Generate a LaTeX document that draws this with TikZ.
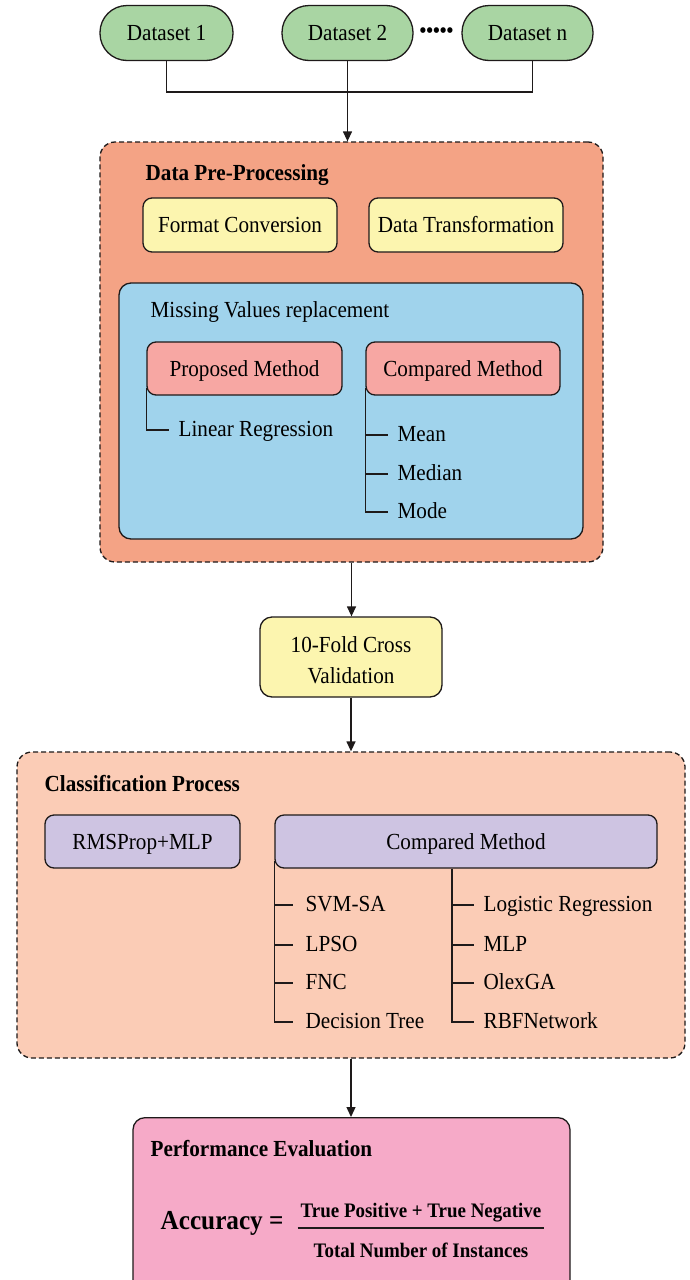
\documentclass[tikz,border=0pt]{standalone}
\usepackage{fontspec}
\setmainfont{Liberation Serif}[FakeStretch=0.92]
\usetikzlibrary{arrows.meta,calc}
\definecolor{linec}{RGB}{30,26,26}
\definecolor{dsgreen}{RGB}{169,213,163}
\definecolor{salmon}{RGB}{244,163,133}
\definecolor{yel}{RGB}{252,245,175}
\definecolor{blu}{RGB}{160,211,236}
\definecolor{pinkm}{RGB}{247,167,163}
\definecolor{peach}{RGB}{251,204,182}
\definecolor{purp}{RGB}{206,196,226}
\definecolor{perfpink}{RGB}{246,170,200}
\newcommand\mainsize{\fontsize{23}{27}\selectfont}
\begin{document}
\begin{tikzpicture}[x=1pt,y=-1pt,
  font=\mainsize,
  line width=1.3pt,
  draw=linec,
  arr/.style={-{Triangle[length=10pt,width=9pt]}},
  dset/.style={draw=linec, fill=dsgreen, rounded corners=27pt, minimum width=133pt, minimum height=55pt, inner sep=0pt, text height=15.2pt, text depth=0pt},
  box/.style={draw=linec, rounded corners=9pt, inner sep=0pt, text height=15.2pt, text depth=0pt},
  bigbox/.style={draw=linec, dash pattern=on 5pt off 3pt, rounded corners=15pt, inner sep=0pt},
  titletext/.style={font=\mainsize\bfseries, anchor=west, inner sep=0pt, text height=15.5pt, text depth=0pt},
  plaintext/.style={anchor=west, inner sep=0pt, text height=15.2pt, text depth=0pt},
  leaf/.style={anchor=west, inner xsep=9pt, inner ysep=0pt, text height=12.6pt, text depth=0pt}
]
\clip (0,0) rectangle (689,1280);
\useasboundingbox (0,0) rectangle (689,1280);
\fill[white] (0,0) rectangle (689,1280);

% datasets
\node[dset] (d1) at (166.5,33) {Dataset 1};
\node[dset, minimum width=131pt] (d2) at (347.5,33) {Dataset 2};
\node[dset, minimum width=131pt] (dn) at (527.5,33) {Dataset n};
\node[font=\fontsize{21}{21}\selectfont\bfseries, inner sep=0pt] (dots) at (436.5,33) {•••••};

% pre-processing
\node[bigbox, fill=salmon, minimum width=503pt, minimum height=420pt] (pre) at (351.5,352) {};
\coordinate (jn) at (347.5,92);
\draw (d1.south) |- (jn) -| ([xshift=5pt]dn.south);
\draw[arr] (d2.south) -- (d2.south |- pre.north);

\node[titletext] (pret) at (145,173) {Data Pre-Processing};
\node[box, fill=yel, minimum width=194pt, minimum height=54pt] (fc) at (240,225) {Format Conversion};
\node[box, fill=yel, minimum width=194pt, minimum height=54pt] (dt) at (466,225) {Data Transformation};

\node[draw=linec, fill=blu, rounded corners=12pt, minimum width=464pt, minimum height=256pt, inner sep=0pt] (mv) at (351,411) {};
\node[plaintext] (mvt) at (150,310) {Missing Values replacement};
\node[box, fill=pinkm, minimum width=195pt, minimum height=53pt] (prop) at (244.5,368.5) {Proposed Method};
\node[box, fill=pinkm, minimum width=194pt, minimum height=53pt] (cmp1) at (463,368.5) {Compared Method};

\node[leaf] (lr) at (169,430) {Linear Regression};
\draw ([yshift=8pt]prop.south west) |- (lr.west);

\node[leaf] (mean) at (388,435) {Mean};
\node[leaf] (median) at (388,474) {Median};
\node[leaf] (mode) at (388,512) {Mode};
\draw ([yshift=8pt]cmp1.south west) |- (mode.west);
\draw (cmp1.west |- mean.west) -- (mean.west);
\draw (cmp1.west |- median.west) -- (median.west);

% cross validation
\node[draw=linec, fill=yel, rounded corners=12pt, minimum width=182pt, minimum height=80pt, inner sep=0pt] (fold) at (351,657) {};
\node[align=center, inner sep=0pt, font=\fontsize{23}{31}\selectfont] (foldt) at (351,660) {10-Fold Cross\\Validation};
\draw[arr] (pre.south) -- (pre.south |- fold.north);

% classification
\node[bigbox, fill=peach, minimum width=668pt, minimum height=306pt] (cls) at (351,905) {};
\draw[arr] (fold.south) -- (fold.south |- cls.north);
\node[titletext] (clst) at (44,784) {Classification Process};
\node[box, fill=purp, minimum width=195pt, minimum height=53pt] (rms) at (142.5,841.5) {RMSProp+MLP};
\node[box, fill=purp, minimum width=382pt, minimum height=53pt] (cmp2) at (466,841.5) {Compared Method};

\node[leaf, inner xsep=12pt] (svm) at (293,905) {SVM-SA};
\node[leaf, inner xsep=12pt] (lpso) at (293,945) {LPSO};
\node[leaf, inner xsep=12pt] (fnc) at (293,983) {FNC};
\node[leaf, inner xsep=12pt] (dtree) at (293,1022) {Decision Tree};
\draw ([yshift=8pt]cmp2.south west) |- (dtree.west);
\draw (cmp2.west |- svm.west) -- (svm.west);
\draw (cmp2.west |- lpso.west) -- (lpso.west);
\draw (cmp2.west |- fnc.west) -- (fnc.west);

\node[leaf] (logr) at (474,905) {Logistic Regression};
\node[leaf] (mlp) at (474,945) {MLP};
\node[leaf] (olex) at (474,983) {OlexGA};
\node[leaf] (rbf) at (474,1022) {RBFNetwork};
\draw ([xshift=-22pt]logr.west |- cmp2.south) |- (rbf.west);
\draw ([xshift=-22pt]logr.west) -- (logr.west);
\draw ([xshift=-22pt]mlp.west) -- (mlp.west);
\draw ([xshift=-22pt]olex.west) -- (olex.west);

% performance
\node[draw=linec, fill=perfpink, rounded corners=12pt, minimum width=437pt, minimum height=200pt, inner sep=0pt, anchor=north] (perf) at (351.5,1117) {};
\draw[arr] (cls.south) -- (cls.south |- perf.north);
\node[titletext] (perft) at (150,1149) {Performance Evaluation};
\node[anchor=west, inner sep=0pt, text height=18.5pt, text depth=0pt, font=\fontsize{27.4}{30}\selectfont\bfseries] (acc) at (160,1220) {Accuracy =};
\node[anchor=south, inner xsep=2.5pt, inner ysep=0pt, text depth=10pt, font=\fontsize{20.6}{24}\selectfont\bfseries] (num) at (421,1228) {True Positive + True Negative};
\draw[line width=1.6pt] (num.south west) -- (num.south east);
\node[anchor=north, inner sep=0pt, text height=29pt, text depth=0pt, font=\fontsize{20.6}{24}\selectfont\bfseries] (den) at (num.south) {Total Number of Instances};
\end{tikzpicture}
\end{document}
